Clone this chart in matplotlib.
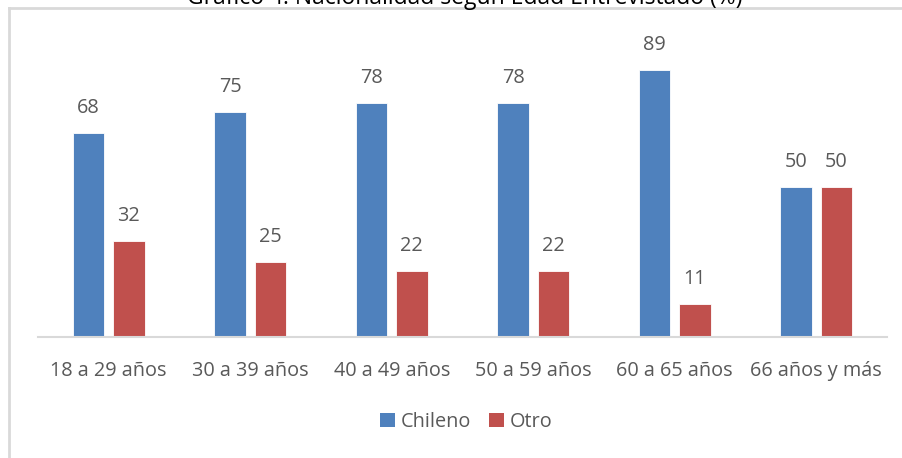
import matplotlib
matplotlib.use("Agg")
import matplotlib.pyplot as plt
import numpy as np
from matplotlib.lines import Line2D
from matplotlib.patches import Patch

categories = ["18 a 29 años", "30 a 39 años", "40 a 49 años", "50 a 59 años", "60 a 65 años", "66 años y más"]
chileno = [68, 75, 78, 78, 89, 50]
otro = [32, 25, 22, 22, 11, 50]
series_names = ["Chileno", "Otro"]
title = "Gráfico 4: Nacionalidad según Edad Entrevistado (%)"

plt.rcParams['font.family'] = ['Open Sans', 'DejaVu Sans']
txt = '#595959'
blue = '#4F81BD'
red = '#C0504D'
fs = 14.3

W, H = 902, 458
fig = plt.figure(figsize=(W/100, H/100), dpi=100)
ax = fig.add_axes([38/W, 1-337/H, (887-38)/W, 300/H])

x = np.arange(len(categories))
bw = 0.222
off = 0.142
b1 = ax.bar(x - off, chileno, bw, color=blue, edgecolor='white', linewidth=0.6)
b2 = ax.bar(x + off, otro, bw, color=red, edgecolor='white', linewidth=0.6)
for bars, vals in ((b1, chileno), (b2, otro)):
    for r, v in zip(bars, vals):
        ax.annotate(f"{v}", (r.get_x() + r.get_width()/2, v), xytext=(0, 11),
                    textcoords='offset points', ha='center', va='bottom',
                    fontsize=fs, color=txt)

ax.set_xlim(-0.5, len(categories) - 0.5)
ax.set_ylim(0, 100)
ax.set_xticks(x)
ax.set_xticklabels(categories, fontsize=fs, color=txt)
ax.tick_params(axis='x', length=0, pad=17)
ax.set_yticks([])
for s in ['top', 'right', 'left']:
    ax.spines[s].set_visible(False)
ax.spines['bottom'].set_color('#D9D9D9')
ax.spines['bottom'].set_linewidth(1.5)

# frame
fig.add_artist(Line2D([8.5/W, 8.5/W], [0, 1-7.5/H], transform=fig.transFigure, color='#D9D9D9', lw=2))
fig.add_artist(Line2D([8.5/W, 1], [1-7.5/H, 1-7.5/H], transform=fig.transFigure, color='#D9D9D9', lw=2))

fig.text(465/W, 1-4/H, title, ha='center', va='baseline', fontsize=16.5, color='black')

handles = [Patch(facecolor=blue, label=series_names[0]), Patch(facecolor=red, label=series_names[1])]
fig.legend(handles=handles, loc='center', bbox_to_anchor=(466/W, 1-422/H), ncol=2, frameon=False,
           fontsize=fs, labelcolor=txt, handlelength=0.75, handleheight=0.75, handletextpad=0.3,
           columnspacing=0.9)

fig.savefig("out.png", dpi=100)
